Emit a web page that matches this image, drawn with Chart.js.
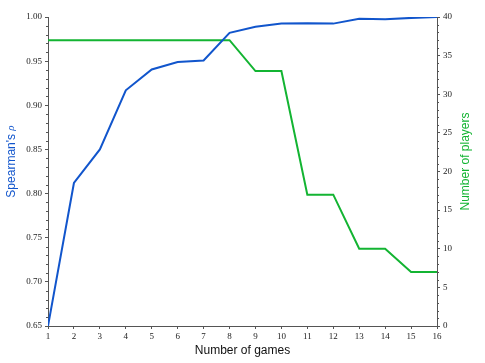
<!DOCTYPE html>
<html><head><meta charset="utf-8">
<script src="https://cdn.jsdelivr.net/npm/chart.js@4/dist/chart.umd.min.js"></script>
<style>html,body{margin:0;padding:0;background:#fff}canvas{display:block}</style>
</head><body>
<canvas id="c" width="485" height="363"></canvas>
<script>
const games = [1,2,3,4,5,6,7,8,9,10,11,12,13,14,15,16];
const spearman = [0.650,0.812,0.850,0.917,0.9405,0.949,0.9507,0.982,0.989,0.9926,0.993,0.9925,0.998,0.9975,0.999,1.000];
const players = [37,37,37,37,37,37,37,37,33,33,17,17,10,10,7,7];
const leftTitle = "Spearman's ";
const leftSymbol = "\u03c1";
const rightTitle = "Number of players";
const xTitle = "Number of games";

const BLUE = '#1155cc', GREEN = '#13b432', AXIS = '#555';
const tickFont = {family: "'Liberation Serif', 'DejaVu Serif', serif", size: 9};

const minorTicks = {
  id: 'minorTicks',
  afterDraw(chart) {
    const ctx = chart.ctx;
    ctx.save();
    ctx.strokeStyle = AXIS; ctx.lineWidth = 1;
    const yl = chart.scales.y, yr = chart.scales.y2;
    for (let i = 65; i <= 100; i++) {
      if (i % 5 === 0) continue;
      const p = Math.round(yl.getPixelForValue(i/100)) + 0.5;
      ctx.beginPath(); ctx.moveTo(yl.right - 2, p); ctx.lineTo(yl.right, p); ctx.stroke();
    }
    for (let i = 0; i <= 40; i++) {
      if (i % 5 === 0) continue;
      const p = Math.round(yr.getPixelForValue(i)) + 0.5;
      ctx.beginPath(); ctx.moveTo(yr.left, p); ctx.lineTo(yr.left + 2, p); ctx.stroke();
    }
    // titles
    const ca = chart.chartArea;
    const cy = (ca.top + ca.bottom) / 2 - 10;
    ctx.font = "12px 'Liberation Sans', Arial, sans-serif";
    const w1 = ctx.measureText(leftTitle).width;
    ctx.font = "italic 11px 'Liberation Serif', serif";
    const w2 = ctx.measureText(leftSymbol).width;
    ctx.translate(12, cy);
    ctx.rotate(-Math.PI/2);
    ctx.fillStyle = BLUE;
    ctx.textBaseline = 'middle';
    ctx.textAlign = 'left';
    ctx.font = "12px 'Liberation Sans', Arial, sans-serif";
    ctx.fillText(leftTitle, -(w1 + w2)/2, 0);
    ctx.font = "italic 11px 'Liberation Serif', serif";
    ctx.fillText(leftSymbol, -(w1 + w2)/2 + w1, -1);
    ctx.restore();
    ctx.save();
    ctx.translate(466, cy);
    ctx.rotate(-Math.PI/2);
    ctx.fillStyle = GREEN;
    ctx.textBaseline = 'middle';
    ctx.textAlign = 'center';
    ctx.font = "12px 'Liberation Sans', Arial, sans-serif";
    ctx.fillText(rightTitle, 0, 0);
    ctx.restore();
    ctx.save();
    ctx.fillStyle = '#111';
    ctx.textAlign = 'center';
    ctx.textBaseline = 'middle';
    ctx.font = "12px 'Liberation Sans', Arial, sans-serif";
    ctx.fillText(xTitle, (ca.left + ca.right)/2, 351);
    ctx.restore();
  }
};

new Chart(document.getElementById('c'), {
  type: 'line',
  data: {
    datasets: [
      {data: games.map((g,i)=>({x:g,y:spearman[i]})), borderColor: BLUE, borderWidth: 2, pointRadius: 0, tension: 0, yAxisID: 'y', fill: false},
      {data: games.map((g,i)=>({x:g,y:players[i]})), borderColor: GREEN, borderWidth: 2, pointRadius: 0, tension: 0, yAxisID: 'y2', fill: false}
    ]
  },
  options: {
    responsive: false, animation: false, devicePixelRatio: 1,
    layout: {padding: {top: 17, left: 0, right: 0, bottom: 0}},
    plugins: {legend: {display: false}, tooltip: {enabled: false}},
    scales: {
      x: {type: 'linear', min: 1, max: 16,
        ticks: {stepSize: 1, font: tickFont, color: '#222', padding: 2, maxRotation: 0},
        grid: {drawOnChartArea: false, tickLength: 3, color: AXIS},
        border: {display: true, color: AXIS},
        afterFit: s => { s.height = 37; }
      },
      y: {type: 'linear', position: 'left', min: 0.65, max: 1.0,
        ticks: {stepSize: 0.05, font: tickFont, color: '#222', padding: 3, callback: v => v.toFixed(2)},
        grid: {drawOnChartArea: false, tickLength: 3, color: AXIS},
        border: {display: true, color: AXIS},
        afterFit: s => { s.width = 48; }
      },
      y2: {type: 'linear', position: 'right', min: 0, max: 40,
        ticks: {stepSize: 5, font: tickFont, color: '#222', padding: 3},
        grid: {drawOnChartArea: false, tickLength: 3, color: AXIS},
        border: {display: true, color: AXIS},
        afterFit: s => { s.width = 48; }
      }
    }
  },
  plugins: [minorTicks]
});
</script>
</body></html>
